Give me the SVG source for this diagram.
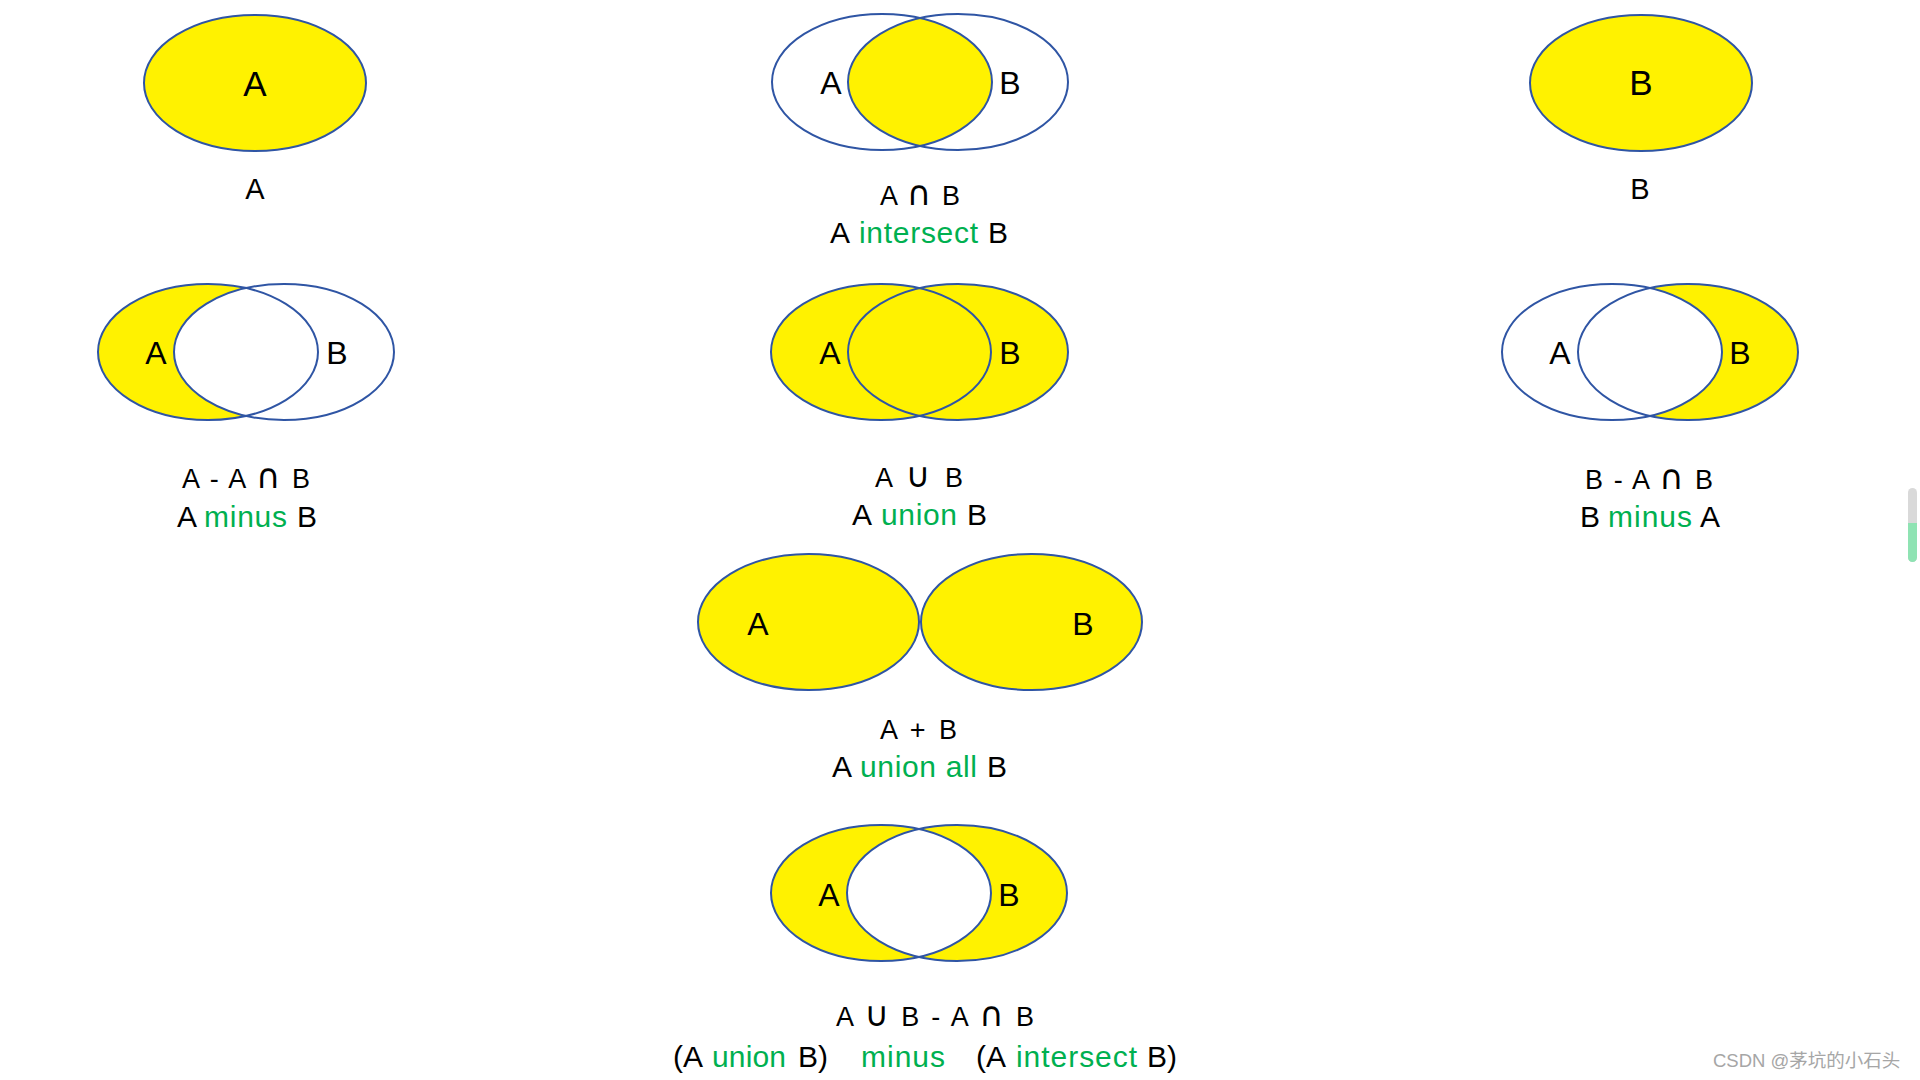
<svg xmlns="http://www.w3.org/2000/svg" width="1920" height="1080" viewBox="0 0 1920 1080">
<style>
.e{stroke:#2F55A4;stroke-width:2}
.y{fill:#FFF200}
.w{fill:#FFFFFF}
.o{fill:none}
.lbl{font-family:"Liberation Sans","DejaVu Sans",sans-serif;font-size:32px;fill:#000;text-anchor:middle}
.big{font-size:35px}
.cap{font-family:"Liberation Sans","DejaVu Sans",sans-serif;font-size:29px;fill:#000;text-anchor:middle}
.f1{font-family:"Liberation Sans","DejaVu Sans",sans-serif;font-size:27px;fill:#000}
.s{font-family:"DejaVu Sans",sans-serif;font-size:34px}
.f2{font-family:"Liberation Sans","DejaVu Sans",sans-serif;font-size:30px;fill:#000}
.g{fill:#00B050}
.wm{font-family:"Liberation Sans","Noto Sans CJK SC",sans-serif;font-size:18.5px;fill:#A6A6A6}
</style>
<defs>
<clipPath id="c2"><ellipse cx="882" cy="82" rx="110" ry="68"/></clipPath>
<clipPath id="c8"><ellipse cx="881" cy="893" rx="110" ry="68"/></clipPath>
</defs>
<rect width="1920" height="1080" fill="#FFFFFF"/>

<g id="setA">
<ellipse class="e y" cx="255" cy="83" rx="111" ry="68"/>
<text class="lbl big" x="255" y="96">A</text>
<text class="cap" x="255" y="199">A</text>
</g>

<g id="intersect">
<ellipse class="w" cx="882" cy="82" rx="110" ry="68"/>
<ellipse class="w" cx="958" cy="82" rx="110" ry="68"/>
<ellipse class="y" cx="958" cy="82" rx="110" ry="68" clip-path="url(#c2)"/>
<ellipse class="e o" cx="882" cy="82" rx="110" ry="68"/>
<ellipse class="e o" cx="958" cy="82" rx="110" ry="68"/>
<text class="lbl" x="831" y="94">A</text>
<text class="lbl" x="1010" y="94">B</text>
<text class="f1" x="880" y="205" textLength="80" lengthAdjust="spacing">A <tspan class="s">∩</tspan> B</text>
<text class="f2" y="243"><tspan x="830">A</tspan><tspan class="g" x="859" textLength="119">intersect</tspan><tspan x="988">B</tspan></text>
</g>

<g id="setB">
<ellipse class="e y" cx="1641" cy="83" rx="111" ry="68"/>
<text class="lbl big" x="1641" y="95">B</text>
<text class="cap" x="1640" y="199">B</text>
</g>

<g id="aMinusB">
<ellipse class="y" cx="208" cy="352" rx="110" ry="68"/>
<ellipse class="w" cx="284" cy="352" rx="110" ry="68"/>
<ellipse class="e o" cx="208" cy="352" rx="110" ry="68"/>
<ellipse class="e o" cx="284" cy="352" rx="110" ry="68"/>
<text class="lbl" x="156" y="364">A</text>
<text class="lbl" x="337" y="364">B</text>
<text class="f1" x="182" y="488" textLength="128" lengthAdjust="spacing">A - A <tspan class="s">∩</tspan> B</text>
<text class="f2" y="527"><tspan x="177">A</tspan><tspan class="g" x="204" textLength="83">minus</tspan><tspan x="297">B</tspan></text>
</g>

<g id="union">
<ellipse class="y" cx="881" cy="352" rx="110" ry="68"/>
<ellipse class="y" cx="958" cy="352" rx="110" ry="68"/>
<ellipse class="e o" cx="881" cy="352" rx="110" ry="68"/>
<ellipse class="e o" cx="958" cy="352" rx="110" ry="68"/>
<text class="lbl" x="830" y="364">A</text>
<text class="lbl" x="1010" y="364">B</text>
<text class="f1" x="875" y="487" textLength="88" lengthAdjust="spacing">A <tspan class="s">∪</tspan> B</text>
<text class="f2" y="525"><tspan x="852">A</tspan><tspan class="g" x="881" textLength="76">union</tspan><tspan x="967">B</tspan></text>
</g>

<g id="bMinusA">
<ellipse class="y" cx="1688" cy="352" rx="110" ry="68"/>
<ellipse class="w" cx="1612" cy="352" rx="110" ry="68"/>
<ellipse class="e o" cx="1612" cy="352" rx="110" ry="68"/>
<ellipse class="e o" cx="1688" cy="352" rx="110" ry="68"/>
<text class="lbl" x="1560" y="364">A</text>
<text class="lbl" x="1740" y="364">B</text>
<text class="f1" x="1585" y="489" textLength="128" lengthAdjust="spacing">B - A <tspan class="s">∩</tspan> B</text>
<text class="f2" y="527"><tspan x="1580">B</tspan><tspan class="g" x="1608" textLength="84">minus</tspan><tspan x="1700">A</tspan></text>
</g>

<g id="unionAll">
<ellipse class="e y" cx="808.5" cy="622" rx="110.5" ry="68"/>
<ellipse class="e y" cx="1031.5" cy="622" rx="110.5" ry="68"/>
<text class="lbl" x="758" y="635">A</text>
<text class="lbl" x="1083" y="635">B</text>
<text class="f1" x="880" y="739" textLength="77" lengthAdjust="spacing">A + B</text>
<text class="f2" y="777"><tspan x="832">A</tspan><tspan class="g" x="860" textLength="117">union all</tspan><tspan x="987">B</tspan></text>
</g>

<g id="symDiff">
<ellipse class="y" cx="881" cy="893" rx="110" ry="68"/>
<ellipse class="y" cx="957" cy="893" rx="110" ry="68"/>
<ellipse class="w" cx="957" cy="893" rx="110" ry="68" clip-path="url(#c8)"/>
<ellipse class="e o" cx="881" cy="893" rx="110" ry="68"/>
<ellipse class="e o" cx="957" cy="893" rx="110" ry="68"/>
<text class="lbl" x="829" y="906">A</text>
<text class="lbl" x="1009" y="906">B</text>
<text class="f1" x="836" y="1026" textLength="198" lengthAdjust="spacing">A <tspan class="s">∪</tspan> B - A <tspan class="s">∩</tspan> B</text>
<text class="f2" y="1067"><tspan x="673">(A</tspan><tspan class="g" x="712" textLength="74">union</tspan><tspan x="798">B)</tspan><tspan class="g" x="861" textLength="84">minus</tspan><tspan x="976">(A</tspan><tspan class="g" x="1016" textLength="121">intersect</tspan><tspan x="1147">B)</tspan></text>
</g>

<g id="connectors"></g>

<g id="scrollbar">
<rect x="1908" y="488" width="9" height="74" rx="4.5" fill="#D9D9D9"/>
<path d="M1908,523 h9 v34.5 a4.5,4.5 0 0 1 -9,0 z" fill="#8FE3B3"/>
</g>

<text class="wm" x="1713" y="1067">CSDN @茅坑的小石头</text>
</svg>
